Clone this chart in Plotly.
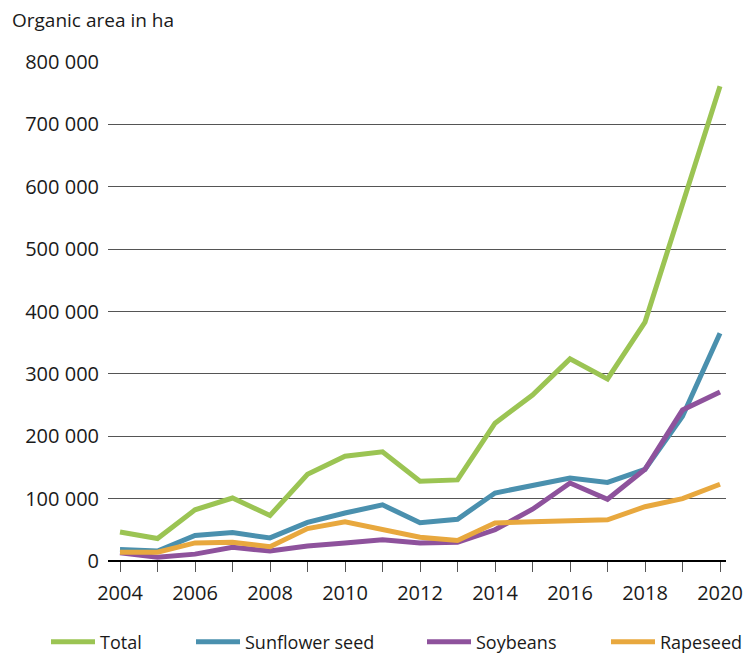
import plotly.graph_objects as go

years = list(range(2004, 2021))
total = [46500, 36000, 82000, 101000, 73000, 139000, 168000, 175000, 128000, 130000,
         221000, 266000, 324000, 292000, 383000, 569000, 761000]
sunflower = [18500, 16000, 41000, 45500, 37000, 62000, 77000, 90000, 61500, 67000,
             109000, 120000, 133000, 126000, 147000, 232000, 365000]
soybeans = [13000, 6000, 11000, 22000, 16000, 24000, 29000, 34000, 29000, 30000,
            50000, 83000, 125000, 99000, 147000, 242000, 271000]
rapeseed = [14000, 14000, 29000, 30000, 23000, 52000, 63000, 50000, 38000, 33000,
            61000, 63000, 65000, 66000, 87000, 100000, 123000]

series = [("Total", total, "#9BC453"),
          ("Sunflower seed", sunflower, "#4A90AE"),
          ("Soybeans", soybeans, "#8E529C"),
          ("Rapeseed", rapeseed, "#E8A83E")]

ytickvals = [0, 100000, 200000, 300000, 400000, 500000, 600000, 700000, 800000]
yticktext = ["0", "100 000", "200 000", "300 000", "400 000", "500 000",
             "600 000", "700 000", "800 000"]
xtickvals = list(range(2004, 2021))
xticktext = [str(y) if y % 2 == 0 else "" for y in xtickvals]

FONT = "Open Sans"
W, H = 744, 653
ML, MR, MT, MB = 108, 18, 62, 92
PW, PH = W - ML - MR, H - MT - MB
legend_px = [46, 191, 422, 606]

fig = go.Figure()
layout_legends = {}
for i, (name, vals, col) in enumerate(series):
    key = "legend" if i == 0 else f"legend{i+1}"
    fig.add_trace(go.Scatter(x=years, y=vals, name=name, mode="lines",
                             line=dict(color=col, width=5), legend=key))
    layout_legends[key] = dict(orientation="h", xref="container", yref="paper",
                               x=legend_px[i] / W, y=(H - MB - 642) / PH,
                               xanchor="left", yanchor="middle", itemwidth=44,
                               font=dict(size=18, family=FONT, color="#1a1a1a"),
                               bgcolor="rgba(0,0,0,0)")

fig.update_layout(
    width=W, height=H,
    margin=dict(l=ML, r=MR, t=MT, b=MB, autoexpand=False),
    plot_bgcolor="white", paper_bgcolor="white",
    font=dict(family=FONT, size=19, color="#1a1a1a"),
    showlegend=True,
    annotations=[dict(text="Organic area in ha", xref="paper", yref="paper",
                      x=(10 - ML) / PW, y=(H - MB - 20) / PH, showarrow=False,
                      font=dict(size=19, family=FONT, color="#1a1a1a"),
                      xanchor="left", yanchor="middle")],
    **layout_legends,
)

fig.update_xaxes(range=[2003.68, 2020.16], tickvals=xtickvals, ticktext=xticktext,
                 ticks="outside", ticklen=10, tickcolor="#555", tickwidth=1,
                 showgrid=False, showline=False, zeroline=False, automargin=False,
                 ticklabeloverflow="allow", ticklabelstandoff=4,
                 tickfont=dict(size=20))
fig.update_yaxes(range=[0, 800000], tickvals=ytickvals, ticktext=yticktext,
                 showgrid=True, gridcolor="#555", gridwidth=1,
                 zeroline=True, zerolinecolor="#000", zerolinewidth=1.5,
                 showline=False, ticks="", ticklabelstandoff=8, automargin=False,
                 tickfont=dict(size=20))

fig.write_html("out.html", config={"displayModeBar": False},
               post_script="document.body.style.margin='0';document.body.style.overflow='hidden';")
